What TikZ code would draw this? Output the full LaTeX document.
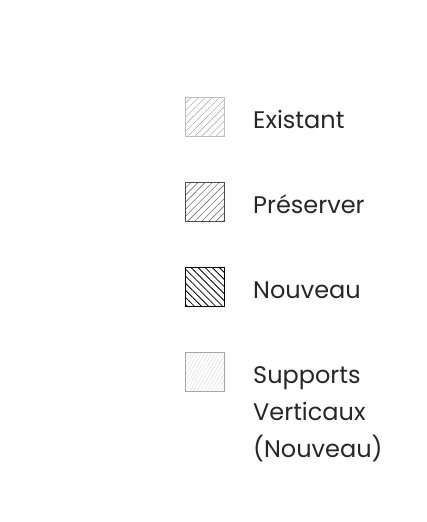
\documentclass[tikz,border=0pt]{standalone}
\usepackage{fontspec}
\setmainfont{Poppins}
\usetikzlibrary{positioning,patterns.meta}

\tikzset{
    swatch/.style={minimum size=39pt, inner sep=0pt, line width=1pt},
    legtext/.style={anchor=base west, font=\fontsize{24}{37}\selectfont, text=black!85, align=left, inner sep=0pt},
}

\begin{document}
\begin{tikzpicture}[x=1pt,y=-1pt]

    \useasboundingbox (0,0) rectangle (427,522);

    \node[swatch, draw=black!25, pattern={Lines[angle=45,distance=5pt,line width=0.6pt]}, pattern color=black!30] (existant) at (205,117) {};
    \node[swatch, draw=black!70, line width=1.3pt, pattern={Lines[angle=45,distance=5pt,line width=0.6pt]}, pattern color=black!55] (preserver) at (205,202) {};
    \node[swatch, draw=black, line width=1.6pt, pattern={Lines[angle=-45,distance=5pt,line width=0.8pt]}, pattern color=black] (nouveau) at (205,287) {};
    \node[swatch, draw=black!35, pattern={Lines[angle=60,distance=3pt,line width=0.4pt]}, pattern color=black!15] (supports) at (205,372) {};

    \node[legtext] (t1) at (253,128) {Existant};
    \node[legtext] (t2) at (253,213) {Préserver};
    \node[legtext] (t3) at (253,298) {Nouveau};
    \node[legtext, anchor=north west] (t4) at (253,366) {Supports\\Verticaux\\(Nouveau)};

\end{tikzpicture}
\end{document}
